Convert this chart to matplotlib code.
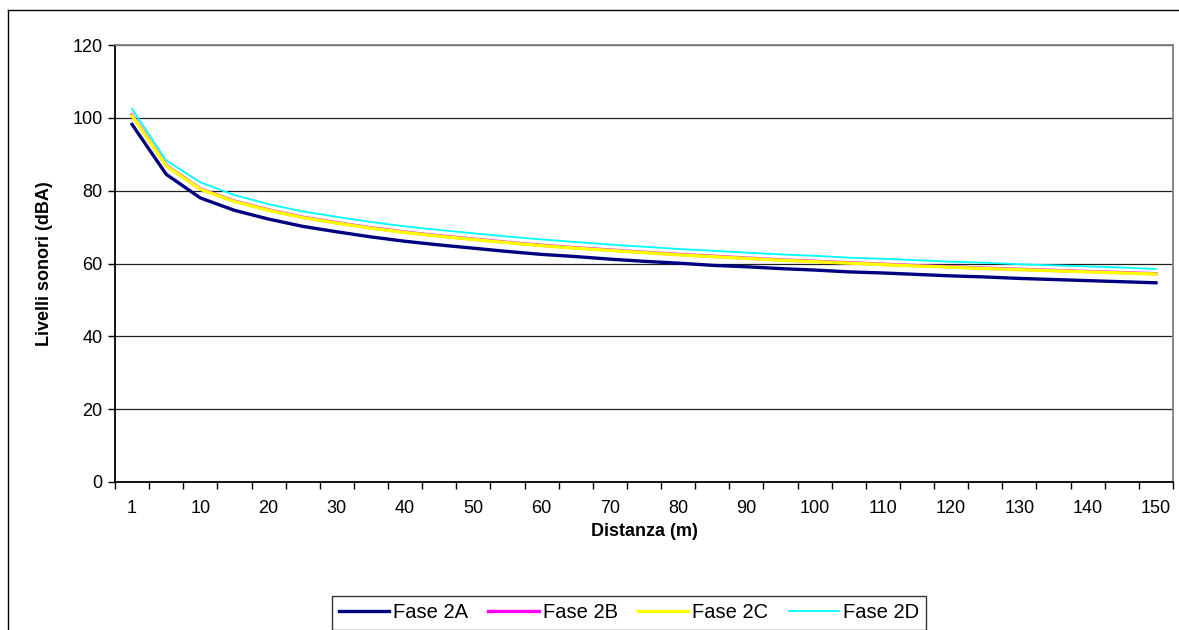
import matplotlib.pyplot as plt
from matplotlib.lines import Line2D
import numpy as np

plt.rcParams['font.family'] = ['Liberation Sans', 'DejaVu Sans']

# distances (m), categories on the x axis
distances = [1, 5, 10, 15, 20, 25, 30, 35, 40, 45, 50, 55, 60, 65, 70, 75,
             80, 85, 90, 95, 100, 105, 110, 115, 120, 125, 130, 135, 140, 145, 150]

fase_2a = [98.2, 84.5, 78.0, 74.6, 72.2, 70.2, 68.7, 67.3, 66.1, 65.1, 64.2,
           63.3, 62.5, 61.9, 61.2, 60.6, 60.1, 59.5, 59.1, 58.6, 58.2, 57.7,
           57.4, 57.0, 56.6, 56.3, 55.9, 55.6, 55.3, 55.0, 54.7]
fase_2b = [100.8, 86.9, 80.5, 77.1, 74.7, 72.7, 71.2, 69.8, 68.6, 67.6, 66.7,
           65.8, 65.0, 64.3, 63.7, 63.1, 62.5, 62.0, 61.5, 61.0, 60.6, 60.2,
           59.8, 59.4, 59.1, 58.7, 58.4, 58.1, 57.8, 57.5, 57.2]
fase_2c = [100.6, 86.8, 80.4, 77.0, 74.6, 72.6, 71.1, 69.7, 68.5, 67.5, 66.6,
           65.7, 64.9, 64.2, 63.6, 63.0, 62.4, 61.9, 61.4, 60.9, 60.5, 60.1,
           59.7, 59.3, 59.0, 58.6, 58.3, 58.0, 57.7, 57.4, 57.1]
fase_2d = [102.5, 88.3, 82.3, 78.8, 76.3, 74.3, 72.8, 71.4, 70.2, 69.2, 68.3,
           67.4, 66.6, 65.9, 65.2, 64.6, 64.0, 63.5, 63.0, 62.5, 62.1, 61.6,
           61.3, 60.9, 60.5, 60.2, 59.8, 59.5, 59.2, 58.9, 58.5]

W, H = 1179, 630
fig = plt.figure(figsize=(W / 100, H / 100), dpi=100)
ax = fig.add_axes([115 / W, 1 - 482 / H, (1173 - 115) / W, (482 - 45) / H])

# outer chart border (cut by the image edges on right and bottom)
fig.add_artist(Line2D([8 / W, 8 / W], [1 - 10 / H, 0], color="black", lw=1.0))
fig.add_artist(Line2D([8 / W, 1], [1 - 10 / H, 1 - 10 / H], color="black", lw=1.0))

x = np.arange(len(distances))
ax.plot(x, fase_2a, color="#000080", lw=2.4, label="Fase 2A", zorder=3)
ax.plot(x, fase_2b, color="#FF00FF", lw=2.4, label="Fase 2B", zorder=3)
ax.plot(x, fase_2c, color="#FFFF00", lw=2.4, label="Fase 2C", zorder=4)
ax.plot(x, fase_2d, color="#00FFFF", lw=1.3, label="Fase 2D", zorder=5)

ax.set_xlim(-0.5, len(distances) - 0.5)
ax.set_ylim(0, 120)
ax.set_yticks(range(0, 121, 20))
ax.grid(axis="y", color="#202020", lw=0.9)
ax.set_axisbelow(True)

ax.set_xticks(x[::2])
ax.set_xticklabels([str(d) for d in distances[::2]])
ax.set_xticks(np.arange(-0.5, len(distances)), minor=True)
ax.tick_params(axis="x", which="major", length=0, pad=13, labelsize=13)
ax.tick_params(axis="x", which="minor", length=5, width=1, direction="out")
ax.tick_params(axis="y", length=5, width=1, pad=4, labelsize=13)

for s in ["top", "right"]:
    ax.spines[s].set_color("#808080")
    ax.spines[s].set_linewidth(1.3)
for s in ["left", "bottom"]:
    ax.spines[s].set_color("black")
    ax.spines[s].set_linewidth(1.3)

ax.set_ylabel("Livelli sonori (dBA)", fontsize=13, fontweight="bold", labelpad=14)
ax.set_xlabel("Distanza (m)", fontsize=13, fontweight="bold", labelpad=4)

leg = fig.legend(loc="center", bbox_to_anchor=(629 / W, 1 - 613 / H), ncol=4,
                 fontsize=14.5, frameon=True, fancybox=False, handlelength=2.5,
                 handletextpad=0.2, columnspacing=1.0, borderpad=0.35)
leg.get_frame().set_edgecolor("black")
leg.get_frame().set_linewidth(1.0)

fig.savefig("out.png", dpi=100)
